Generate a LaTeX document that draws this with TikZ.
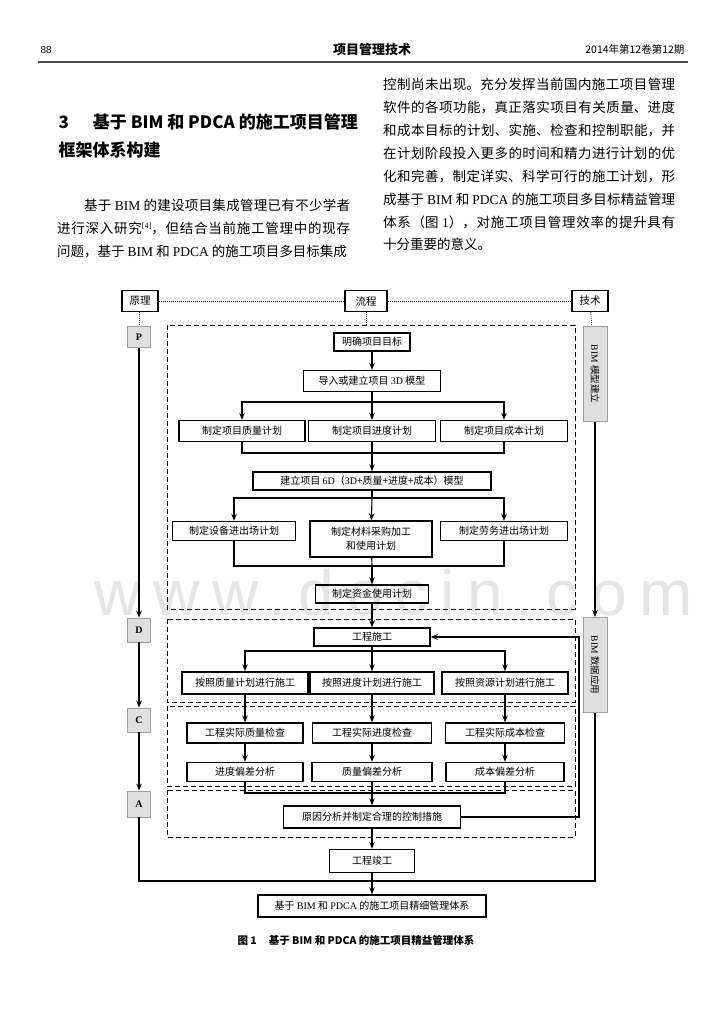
\documentclass[tikz,border=0pt]{standalone}
\usepackage{fontspec}
\setmainfont{Noto Sans CJK SC}
\newfontfamily\lat{Liberation Serif}
\newfontfamily\hdfont{Liberation Sans}
\newfontfamily\wmfont[LetterSpace=20]{Liberation Sans}
\usetikzlibrary{arrows.meta}
\newcommand{\en}[1]{{\lat #1}}
\XeTeXlinebreaklocale "zh"
\XeTeXlinebreakskip=0pt plus 2pt

\begin{document}
\begin{tikzpicture}[x=1pt,y=-1pt,
  >={Stealth[length=7pt,width=5.5pt]},
  box/.style={draw,line width=1.4pt,inner sep=1pt,minimum height=19pt,font=\fontsize{10}{14}\selectfont},
  head/.style={draw,line width=1.4pt,inner sep=1pt,minimum height=21pt,font=\fontsize{10.5}{12}\selectfont},
  phase/.style={draw=gray!75,fill=gray!25,line width=0.8pt,minimum width=23pt,minimum height=24pt,font=\lat\bfseries\fontsize{10}{12}\selectfont},
  tech/.style={phase,rotate=-90,minimum width=95pt,minimum height=24pt,font=\fontsize{9.5}{12}\selectfont},
  stage/.style={line width=0.8pt,dash pattern=on 5pt off 3pt},
  link/.style={line width=0.6pt,dash pattern=on 1pt off 1pt},
  flow/.style={line width=1.1pt},
  body/.style={anchor=north west,inner sep=0pt,align=justify,font=\fontsize{13.5}{22.9}\selectfont}]
\useasboundingbox (0,0) rectangle (724,1024);

% watermark
\node[font=\wmfont\fontsize{64}{64}\selectfont,text=gray!20,anchor=base] (wm) at (394,615) {www.docin.com};

% page head
\node[anchor=west,font=\hdfont\fontsize{10}{12}\selectfont] (pgno) at (37,50) {88};
\node[font=\bfseries\fontsize{13}{15}\selectfont] (journal) at (372,50) {项目管理技术};
\node[anchor=east,font=\fontsize{10.5}{12}\selectfont] (issue) at (688,50) {2014年第12卷第12期};
\draw[line width=1.2pt,gray!60!black] (38,62) -- (688,62);

% section title and text
\node[anchor=west,font=\bfseries\fontsize{17}{20}\selectfont] (sec) at (55,122) {3\hspace{24pt}基于 BIM 和 PDCA 的施工项目管理};
\node[anchor=west,font=\bfseries\fontsize{17}{20}\selectfont] (sec2) at (55,150) {框架体系构建};

\node[body,text width=293pt] (para1) at (57,199) {\noindent\parfillskip=0pt\relax\hspace*{27pt}基于 \en{BIM} 的建设项目集成管理已有不少学者\linebreak
进行深入研究\raisebox{5pt}{\fontsize{8}{8}\selectfont\en{[4]}}，但结合当前施工管理中的现存\linebreak
问题，基于 \en{BIM} 和 \en{PDCA} 的施工项目多目标集成};

\node[body,text width=292pt] (para2) at (383,78) {\noindent 控制尚未出现。充分发挥当前国内施工项目管理\linebreak
软件的各项功能，真正落实项目有关质量、进度\linebreak
和成本目标的计划、实施、检查和控制职能，并\linebreak
在计划阶段投入更多的时间和精力进行计划的优\linebreak
化和完善，制定详实、科学可行的施工计划，形\linebreak
成基于 \en{BIM} 和 \en{PDCA} 的施工项目多目标精益管理\linebreak
体系（图 \en{1}），对施工项目管理效率的提升具有\linebreak
十分重要的意义。};

% top row
\node[head,minimum width=36pt] (yl) at (140,301) {原理};
\node[head,minimum width=42pt] (lc) at (366,301) {流程};
\node[head,minimum width=36pt] (js) at (590,301) {技术};

% PDCA column
\node[phase,minimum height=21pt] (P) at (139,337) {P};
\node[phase] (D) at (139,630) {D};
\node[phase] (C) at (139,720) {C};
\node[phase,minimum height=26pt] (A) at (139,804) {A};

% BIM column
\node[tech] (bimM) at (595,374) {\en{BIM} 模型建立};
\node[tech] (bimU) at (595,665) {\en{BIM} 数据应用};

% stages
\draw[stage] (167,325) rectangle (575,609);
\draw[stage] (167,619) rectangle (575,702);
\draw[stage] (167,706) rectangle (575,786);
\draw[stage] (167,790) rectangle (575,837);

% flow
\node[box,minimum width=76pt,minimum height=18pt] (goal) at (372,342) {明确项目目标};
\node[box,minimum width=137pt,minimum height=21pt] (imp) at (372,381) {导入或建立项目 \en{3D} 模型};
\node[box,minimum width=126pt,minimum height=21pt] (pq) at (242,431) {制定项目质量计划};
\node[box,minimum width=127pt,minimum height=21pt] (pv) at (372,431) {制定项目进度计划};
\node[box,minimum width=127pt,minimum height=21pt] (pc) at (504,431) {制定项目成本计划};
\node[box,minimum width=238pt,minimum height=18pt] (six) at (372,481) {建立项目 \en{6D}（\en{3D}+质量+进度+成本）模型};
\node[box,minimum width=123pt] (eq) at (234,531) {制定设备进出场计划};
\node[box,minimum width=122pt,minimum height=36pt,align=center] (mat) at (371,539) {制定材料采购加工\\和使用计划};
\node[box,minimum width=127pt] (lab) at (504,531) {制定劳务进出场计划};
\node[box,minimum width=113pt,minimum height=18pt] (fund) at (372,594) {制定资金使用计划};
\node[box,minimum width=116pt,minimum height=18pt] (con) at (372,637) {工程施工};
\node[box,minimum width=126pt,minimum height=22pt] (dq) at (245,683) {按照质量计划进行施工};
\node[box,minimum width=124pt,minimum height=22pt] (dv) at (372,683) {按照进度计划进行施工};
\node[box,minimum width=126pt,minimum height=22pt] (dr) at (505,683) {按照资源计划进行施工};
\node[box,minimum width=116pt,minimum height=20pt] (cq) at (245,733) {工程实际质量检查};
\node[box,minimum width=119pt,minimum height=20pt] (cv) at (372,733) {工程实际进度检查};
\node[box,minimum width=119pt,minimum height=20pt] (cc) at (505,733) {工程实际成本检查};
\node[box,minimum width=116pt] (d1) at (245,772) {进度偏差分析};
\node[box,minimum width=120pt] (d2) at (372,772) {质量偏差分析};
\node[box,minimum width=118pt] (d3) at (505,772) {成本偏差分析};
\node[box,minimum width=177pt,minimum height=22pt] (cause) at (372,817) {原因分析并制定合理的控制措施};
\node[box,minimum width=85pt,minimum height=23pt] (done) at (372,861) {工程竣工};
\node[box,minimum width=228pt,minimum height=22pt] (final) at (372,906) {基于 \en{BIM} 和 \en{PDCA} 的施工项目精细管理体系};

\node[font=\bfseries\fontsize{10.5}{12}\selectfont] (cap) at (356,940) {图 1\hspace{12pt}基于 BIM 和 PDCA 的施工项目精益管理体系};

\coordinate (ptop) at (366,325);
\coordinate (s1) at (372,402);
\coordinate (m1) at (372,453);
\coordinate (s2) at (372,498);
\coordinate (m2) at (372,566);
\coordinate (s3) at (372,651);
\coordinate (m3) at (372,793);
\coordinate (fb) at (579,0);
\coordinate (loop) at (372,881);

% dotted links
\draw[link] (yl) -- (lc) -- (js);
\draw[link] (yl) -- (P);
\draw[link] (lc) -- (ptop);
\draw[link] (js) -- (bimM);

% connectors
\draw[flow,->] (goal) -- (imp);
\draw[flow] (imp) -- (s1);
\draw[flow,->] (s1) -| (pq);
\draw[flow,->] (s1) -- (pv);
\draw[flow,->] (s1) -| (pc);
\draw[flow] (pq) |- (m1) -| (pc);
\draw[flow] (pv) -- (m1);
\draw[flow,->] (m1) -- (six);
\draw[flow] (six) -- (s2);
\draw[flow,->] (s2) -| (eq);
\draw[flow,->] (s2) -- (mat);
\draw[flow,->] (s2) -| (lab);
\draw[flow] (eq) |- (m2) -| (lab);
\draw[flow] (mat) -- (m2);
\draw[flow,->] (m2) -- (fund);
\draw[flow,->] (fund) -- (con);
\draw[flow] (con) -- (s3);
\draw[flow,->] (s3) -| (dq);
\draw[flow,->] (s3) -- (dv);
\draw[flow,->] (s3) -| (dr);
\foreach \a/\b in {dq/cq,dv/cv,dr/cc,cq/d1,cv/d2,cc/d3}
  \draw[flow,->] (\a) -- (\b);
\draw[flow] (d1) |- (m3) -| (d3);
\draw[flow,->] (d2) -- (cause);
\draw[flow,->] (cause) -| (fb |- con) -- (con);
\draw[flow,->] (cause) -- (done);
\draw[flow,->] (done) -- (final);

\draw[flow,->] (P) -- (D);
\draw[flow,->] (D) -- (C);
\draw[flow,->] (C) -- (A);
\draw[flow] (A) |- (loop) -| (bimU);
\draw[flow,->] (bimM) -- (bimU);
\end{tikzpicture}
\end{document}
